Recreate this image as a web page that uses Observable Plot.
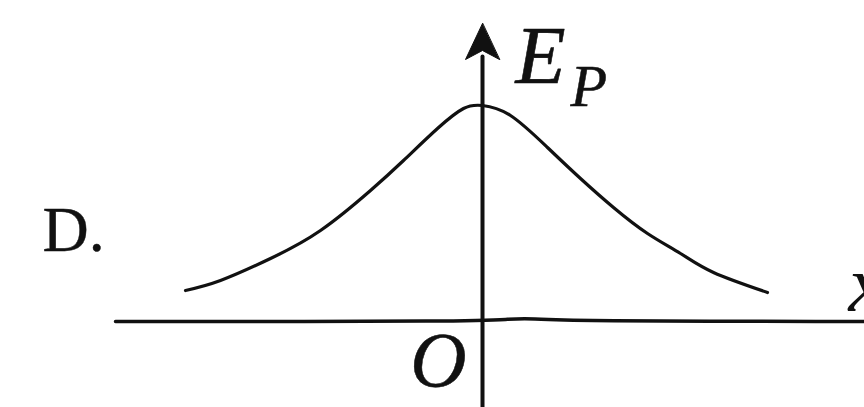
<!DOCTYPE html>
<html>
<head>
<meta charset="utf-8">
<script src="https://cdn.jsdelivr.net/npm/d3@7"></script>
<script src="https://cdn.jsdelivr.net/npm/@observablehq/plot@0.6"></script>
<style>
  html, body { margin: 0; padding: 0; background: #fff; }
  #chart svg { display: block; }
</style>
</head>
<body>
<div id="chart"></div>
<script>
// Curve (units: x along axis, Ep up), origin at O
const curveX = [-5.94, -5.24, -4.24, -3.24, -2.24, -1.58, -0.90, -0.38, 0, 0.56, 1.30, 1.96, 2.62, 3.30, 3.96, 4.62, 5.70];
const curveY = [0.62, 0.82, 1.26, 1.82, 2.62, 3.22, 3.86, 4.26, 4.32, 4.12, 3.48, 2.86, 2.28, 1.76, 1.36, 0.98, 0.58];

// Horizontal axis (with the slight scan wobble right of O)
const axisXx = [-7.34, 0, 0.5, 1.0, 1.8, 7.64];
const axisXy = [0, 0, 0.05, 0.06, 0.01, 0];

// Vertical axis extent
const axisYy = [-1.72, 5.3];
const axisTip = 5.96;

// Labels
const panelLabel = ["D."];
const yLabel = ["E"];
const ySub = ["P"];
const originLabel = ["O"];
const xLabel = ["x"];

const curve = curveX.map((x, i) => ({x, y: curveY[i]}));
const xAxis = axisXx.map((x, i) => ({x, y: axisXy[i]}));
const yAxis = axisYy.map(y => ({x: 0, y}));

const serif = "'Liberation Serif', 'DejaVu Serif', serif";

const arrowHead = {
  draw(context, l) {
    context.moveTo(0, -l);
    context.lineTo(-17, 0);
    context.lineTo(0, -l * 0.25);
    context.lineTo(17, 0);
    context.closePath();
  }
};

const chart = Plot.plot({
  width: 864,
  height: 407,
  margin: 0,
  x: {domain: [-9.64, 7.64], axis: null},
  y: {domain: [-1.72, 6.42], axis: null},
  marks: [
    Plot.line(xAxis, {x: "x", y: "y", stroke: "#111", strokeWidth: 3.5, curve: "basis"}),
    Plot.line(yAxis, {x: "x", y: "y", stroke: "#111", strokeWidth: 4}),
    Plot.vector([axisTip], {x: 0, y: d => d, length: 36, anchor: "end", shape: arrowHead, fill: "#111", stroke: "#111", strokeWidth: 1}),
    Plot.line(curve, {x: "x", y: "y", curve: "natural", stroke: "#111", strokeWidth: 3.2}),
    Plot.text(yLabel, {x: 0, y: axisTip, text: d => d, textAnchor: "start", dx: 33, dy: 33, fontSize: 82, fontStyle: "italic", fontFamily: serif, fill: "#111", stroke: "#111", strokeWidth: 0.6}),
    Plot.text(ySub, {x: 0, y: axisTip, text: d => d, textAnchor: "start", dx: 88, dy: 63, fontSize: 60, fontStyle: "italic", fontFamily: serif, fill: "#111", stroke: "#111", strokeWidth: 0.5}),
    Plot.text(originLabel, {x: 0, y: 0, text: d => d, textAnchor: "middle", dx: -44, dy: 40, fontSize: 78, fontStyle: "italic", fontFamily: serif, fill: "#111", stroke: "#111", strokeWidth: 0.5}),
    Plot.text(xLabel, {x: 7.64, y: 0, text: d => d, textAnchor: "start", dx: -16, dy: -36, fontSize: 80, fontStyle: "italic", fontFamily: serif, fill: "#111"}),
    Plot.text(panelLabel, {frameAnchor: "left", text: d => d, textAnchor: "start", dx: 42, dy: 27, fontSize: 64, fontFamily: serif, fill: "#111", stroke: "#111", strokeWidth: 0.4})
  ]
});
document.getElementById("chart").append(chart);
</script>
</body>
</html>
